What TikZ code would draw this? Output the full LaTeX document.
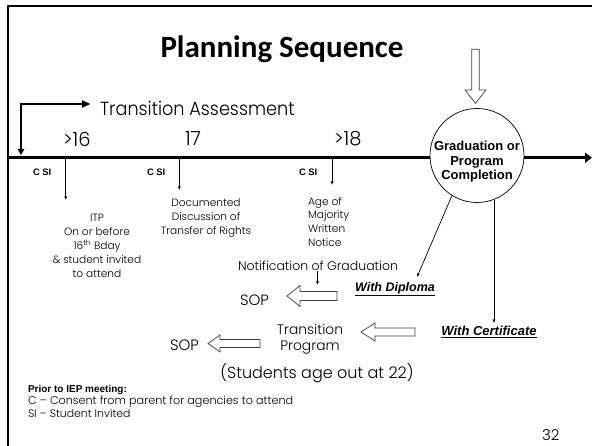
\documentclass[tikz,border=0pt]{standalone}
\usepackage{fontspec}
\setmainfont{Poppins}[UprightFont={* Light}]
\newfontfamily\arialfont{Liberation Sans}
\newfontfamily\titlefont{Carlito}
\usetikzlibrary{arrows.meta,calc}
\newcommand\fsz[2]{\fontsize{#1}{#2}\selectfont}

\begin{document}
\begin{tikzpicture}[x=1pt,y=-1pt,
  txt/.style={inner sep=0pt,outer sep=0pt},
  framestroke/.style={line width=2.3pt},
  elbowstroke/.style={line width=2.5pt},
  axisstroke/.style={line width=3.3pt},
  conn/.style={line width=0.7pt,-{Latex[length=3.5pt,width=3pt]}},
  hollow/.style={draw=black!75,line width=0.7pt,fill=white,line join=miter},
  csi/.style={txt,font=\arialfont\bfseries\fsz{9.4}{10}},
  age/.style={txt,font=\fsz{19.5}{20}},
  note/.style={txt,font=\fsz{10.6}{14},align=center},
  pics/leftblk/.style n args={4}{code={
    \draw[hollow] (0,0) -- (#1,-#2) -- (#1,-#3) -- (#4,-#3)
      -- (#4,#3) -- (#1,#3) -- (#1,#2) -- cycle;}}
]
\useasboundingbox (0,0) rectangle (592,446);

% slide frame (top and left edges)
\draw[framestroke] (7.8,446) -- (7.8,6) -- (592,6);

% title
\node[txt,anchor=base,font=\titlefont\bfseries\fsz{31}{31}] (title) at (282,58) {Planning Sequence};

% hollow arrow pointing down at the completion circle
\draw[hollow] (471.8,49.3) -- (479.2,49.3) -- (479.2,90) -- (486,90)
  -- (475.5,103.3) -- (465,90) -- (471.8,90) -- cycle;

% time line
\node[circle,draw,line width=0.7pt,minimum size=94pt,inner sep=0pt] (circ) at (477,155.5) {};
\node[txt,anchor=north,align=center,font=\arialfont\bfseries\fsz{13}{14.5}] (circtext) at (477,141.3)
  {Graduation or\\Program\\Completion};
\coordinate (axL) at (7,157.7);
\coordinate (axR) at (592,157.7);
\draw[axisstroke] (axL) -- (axL -| circ.west);
\draw[axisstroke,-{Triangle[length=7pt,width=10pt]}] (axR -| circ.east) -- (axR);

% transition assessment elbow
\node[txt,anchor=base west,font=\fsz{19}{20}\addfontfeatures{FakeStretch=0.93}] (ta) at (100,116) {Transition Assessment};
\coordinate (elbow) at (21,104);
\coordinate (taend) at (90.5,104);
\coordinate (axhit) at (21,155);
\draw[elbowstroke,{Triangle[length=8.5pt,width=7pt]}-{Triangle[length=6pt,width=6.5pt]}]
  (taend) -- (elbow) -- (axhit);

% ages
\node[age,anchor=base west] (a16) at (63,147) {>16};
\node[age,anchor=base west] (a17) at (185,146) {17};
\node[age,anchor=base west] (a18) at (334,146) {>18};

% consent / student invited markers
\node[csi,anchor=base west] (c1) at (33,176) {C SI};
\node[csi,anchor=base west] (c2) at (147,176) {C SI};
\node[csi,anchor=base west] (c3) at (299,176) {C SI};

\coordinate (t1) at (65.7,159.3);  \coordinate (e1) at (65.7,200);
\coordinate (t2) at (179.3,159.3); \coordinate (e2) at (179.3,190);
\coordinate (t3) at (332,159.3);   \coordinate (e3) at (332,185);
\draw[conn] (t1) -- (e1);
\draw[conn] (t2) -- (e2);
\draw[conn] (t3) -- (e3);

\node[note,anchor=north] (itp) at (97,214)
  {ITP\\On or before\\16\textsuperscript{th} Bday\\\& student invited\\to attend};
\node[note,anchor=north] (doc) at (206,199)
  {Documented\\Discussion of\\Transfer of Rights};
\node[txt,anchor=north west,align=left,font=\fsz{10.6}{13.7}] (aom) at (308,197)
  {Age of\\Majority\\Written\\Notice};

% outcomes after graduation
\node[txt,anchor=base,font=\fsz{12.5}{14}] (notif) at (318,271) {Notification of Graduation};
\node[txt,anchor=base,font=\arialfont\bfseries\itshape\fsz{12.5}{14}] (dipl) at (395,291.7) {\underline{With Diploma}};
\node[txt,anchor=base,font=\arialfont\bfseries\itshape\fsz{13}{14}] (cert) at (489,336) {\underline{With Certificate}};

\coordinate (diptip) at (417,277);
\draw[conn] (circ.-122) -- (diptip);
\draw[conn] (circ.-69) -- (circ.-69 |- 0,323);
\coordinate (notiftip) at (317.5,285);
\draw[conn] (notif.south -| notiftip) -- (notiftip);

\pic at (287,296) {leftblk={13}{10.5}{4.5}{50}};
\pic at (361,332) {leftblk={14}{9}{4}{54}};
\pic at (208,343.5) {leftblk={12}{8.5}{4}{52}};

\node[txt,anchor=base west,font=\fsz{15}{16}] (sop1) at (240,306) {SOP};
\node[txt,anchor=base west,font=\fsz{15}{16}] (sop2) at (170,350.7) {SOP};
\node[txt,anchor=north,align=center,font=\fsz{13.8}{15.7}] (tp) at (310,324.3) {Transition\\Program};
\node[txt,anchor=base,font=\fsz{16}{18}] (ageout) at (317,378) {(Students age out at 22)};

% legend
\node[txt,anchor=base west,font=\arialfont\bfseries\fsz{10}{12}] (leg0) at (28,392.7) {Prior to IEP meeting:};
\node[txt,anchor=base west,font=\fsz{11.2}{12}] (leg1) at (28,404) {C -- Consent from parent for agencies to attend};
\node[txt,anchor=base west,font=\fsz{10.9}{12}] (leg2) at (28,417.3) {SI -- Student Invited};

% slide number
\node[txt,anchor=base west,font=\fsz{15}{16}] (pg) at (542,440) {32};
\end{tikzpicture}
\end{document}
